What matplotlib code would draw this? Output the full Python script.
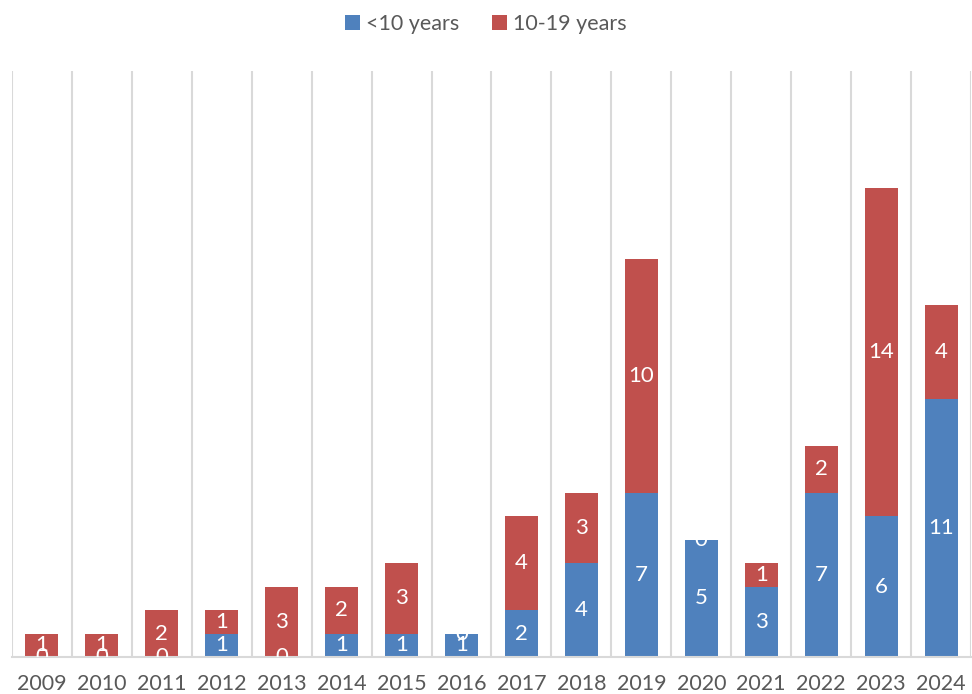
import numpy as np
import matplotlib.pyplot as plt

years = [str(y) for y in range(2009, 2025)]
under10 = [0, 0, 0, 1, 0, 1, 1, 1, 2, 4, 7, 5, 3, 7, 6, 11]
from10to19 = [1, 1, 2, 1, 3, 2, 3, 0, 4, 3, 10, 0, 1, 2, 14, 4]

blue = '#4F81BD'
red = '#C0504D'
grey = '#D9D9D9'
plt.rcParams['font.family'] = ['Lato', 'DejaVu Sans']

fig = plt.figure(figsize=(9.72, 6.94), dpi=100)
ax = fig.add_axes([0.0123, 0.0533, 0.9867, 0.8444])

x = np.arange(len(years))
b1 = ax.bar(x, under10, width=0.55, color=blue, label='<10 years', zorder=2)
b2 = ax.bar(x, from10to19, width=0.55, bottom=under10, color=red, label='10-19 years', zorder=2)

# data labels, zero segments included (clipped at the axis like the original)
for vals, base in [(under10, [0] * len(x)), (from10to19, under10)]:
    for i, v in enumerate(vals):
        t = ax.text(x[i], base[i] + v / 2, str(v), ha='center', va='center',
                    color='white', fontsize=16, zorder=3)
        t.set_clip_on(True)

ax.set_xlim(-0.5, len(years) - 0.5)
ax.set_ylim(0, 25)
ax.set_yticks([])
ax.set_xticks(x)
ax.set_xticklabels(years, fontsize=15.5, color='#595959')
ax.set_xticks(np.arange(-0.5, len(years)), minor=True)
ax.grid(axis='x', which='minor', color=grey, linewidth=1.5, zorder=0)
ax.tick_params(axis='x', which='both', length=0, pad=12)
for s in ['top', 'right', 'left']:
    ax.spines[s].set_visible(False)
ax.spines['bottom'].set_color(grey)
ax.spines['bottom'].set_linewidth(1.5)

fig.legend(handles=[b1, b2], loc='upper center', bbox_to_anchor=(0.5, 1.008), ncol=2,
           frameon=False, fontsize=15.5, handlelength=0.7, handleheight=0.7,
           columnspacing=1.5, handletextpad=0.3, labelcolor='#595959')

fig.savefig('out.png', dpi=100)
